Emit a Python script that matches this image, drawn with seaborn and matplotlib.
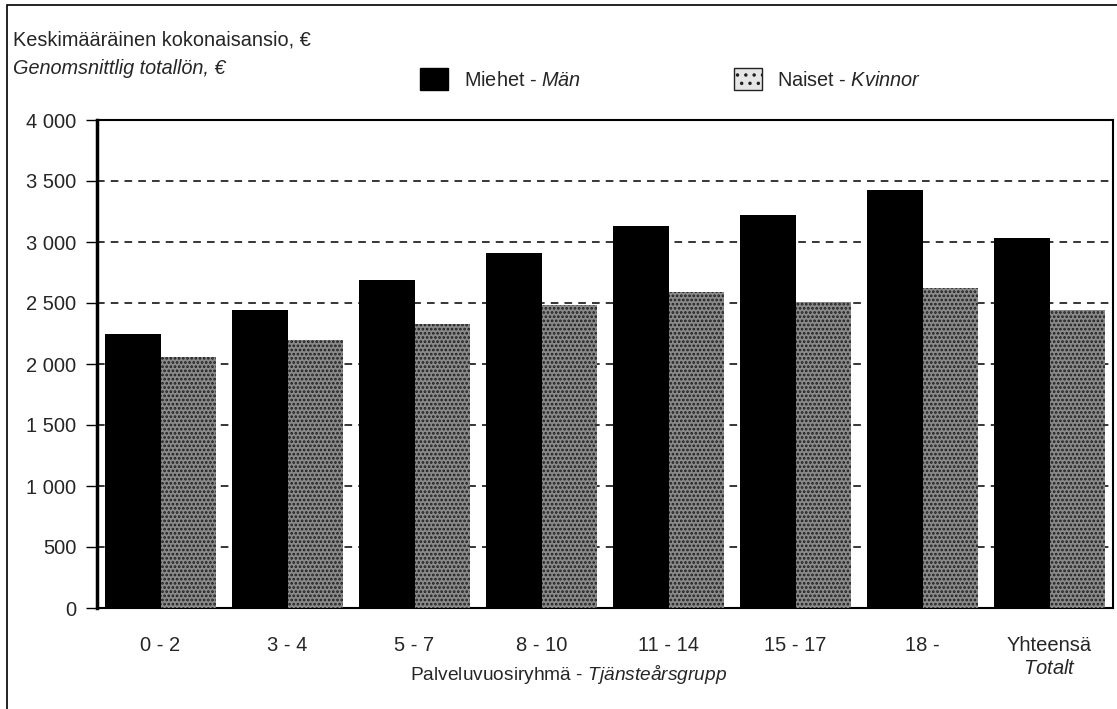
import matplotlib
matplotlib.use("Agg")
import matplotlib.pyplot as plt
import seaborn as sns
import pandas as pd
from matplotlib.patches import Patch, Rectangle
from matplotlib.ticker import FuncFormatter, MultipleLocator, FixedLocator

# ── data ──────────────────────────────────────────────────────────────────────
groups = ["0 - 2", "3 - 4", "5 - 7", "8 - 10", "11 - 14", "15 - 17", "18 -", "Yhteensä"]
tick_labels = ["0 - 2", "3 - 4", "5 - 7", "8 - 10", "11 - 14", "15 - 17", "18 -",
               "Yhteensä\n$\\mathit{Totalt}$"]
miehet = [2250, 2440, 2690, 2910, 3130, 3220, 3430, 3030]
naiset = [2060, 2200, 2330, 2480, 2590, 2510, 2620, 2440]
sexes = ["Miehet", "Naiset"]

df = pd.DataFrame({
    "ryhma": groups * 2,
    "sukupuoli": [sexes[0]] * len(groups) + [sexes[1]] * len(groups),
    "ansio": miehet + naiset,
})

# ── style ─────────────────────────────────────────────────────────────────────
sns.set_style("white")
plt.rcParams["font.family"] = ["Liberation Sans", "DejaVu Sans"]
plt.rcParams["mathtext.fontset"] = "custom"
plt.rcParams["mathtext.rm"] = "Liberation Sans"
plt.rcParams["mathtext.it"] = "Liberation Sans:italic"
plt.rcParams["hatch.linewidth"] = 1.3
FS_TITLE = 14.3
FS_TICK = 14.5
FS_XLAB = 13.8
BLACK, GREY = "#000000", "#8a8a8a"

W, H = 1117, 709
fig = plt.figure(figsize=(W / 100, H / 100), dpi=100)
ax = fig.add_axes([97 / W, 1 - 608 / H, (1113 - 97) / W, (608 - 120) / H])

sns.barplot(data=df, x="ryhma", y="ansio", hue="sukupuoli", order=groups,
            hue_order=sexes, palette={"Miehet": BLACK, "Naiset": GREY},
            width=0.88, saturation=1, errorbar=None, legend=False, ax=ax,
            zorder=3, linewidth=0)

# mottled look of the women's bars
for bar in ax.containers[1]:
    bar.set_hatch("....")
    bar.set_edgecolor("#1e1e1e")
    bar.set_linewidth(0)

ax.set_ylim(0, 4000)
ax.set_xlim(-0.5, len(groups) - 0.5)
ax.yaxis.set_major_locator(MultipleLocator(500))
ax.yaxis.set_major_formatter(FuncFormatter(lambda v, _: f"{int(v):,}".replace(",", " ")))
ax.tick_params(axis="y", direction="out", length=8, width=1, color="black",
               labelsize=FS_TICK, pad=7, left=True)
ax.set_xticks(range(len(groups)))
ax.set_xticklabels(tick_labels, fontsize=FS_TICK, linespacing=1.3)
ax.tick_params(axis="x", which="major", length=0, pad=20)
ax.xaxis.set_minor_locator(FixedLocator([i - 0.5 for i in range(len(groups) + 1)]))
ax.tick_params(axis="x", which="minor", direction="out", length=5, width=1, color="black")
ax.set_xlabel("")
ax.set_ylabel("")

for y in range(500, 4000, 500):
    ax.axhline(y, color="black", lw=1.1, ls=(0, (5, 4)), zorder=1)

for side in ["left", "right", "top", "bottom"]:
    ax.spines[side].set_visible(True)
    ax.spines[side].set_color("black")
    ax.spines[side].set_linewidth(1.5)
ax.spines["left"].set_linewidth(2.5)

# ── titles, legend, axis label ────────────────────────────────────────────────
fig.text(13 / W, 1 - 40 / H, "Keskimääräinen kokonaisansio, €", fontsize=FS_TITLE,
         va="center")
fig.text(13 / W, 1 - 68 / H, "Genomsnittlig totallön, €", fontsize=FS_TITLE,
         va="center", style="italic")
fig.text(569 / W, 1 - 674 / H, "Palveluvuosiryhmä - $\\mathit{Tjänsteårsgrupp}$",
         fontsize=FS_XLAB, ha="center", va="center")

handles = [Patch(facecolor=BLACK, edgecolor=BLACK),
           Patch(facecolor="#e6e6e6", edgecolor="#222222", hatch="..", linewidth=1)]
fig.legend(handles, ["Miehet - $\\mathit{Män}$", "Naiset - $\\mathit{Kvinnor}$"],
           loc="center left", bbox_to_anchor=(420 / W, 1 - 79 / H), ncol=2,
           frameon=False, fontsize=FS_TITLE, handlelength=1.4, handleheight=1.4,
           handletextpad=0.8, columnspacing=7.7, borderaxespad=0, borderpad=0)

# outer frame of the figure (top and left edges visible)
fig.patches.append(Rectangle((7 / W, -0.01), 1.0, 1.01 - 5 / H,
                             transform=fig.transFigure, fill=False,
                             edgecolor="black", linewidth=1.2))

fig.savefig("out.png", dpi=100)
